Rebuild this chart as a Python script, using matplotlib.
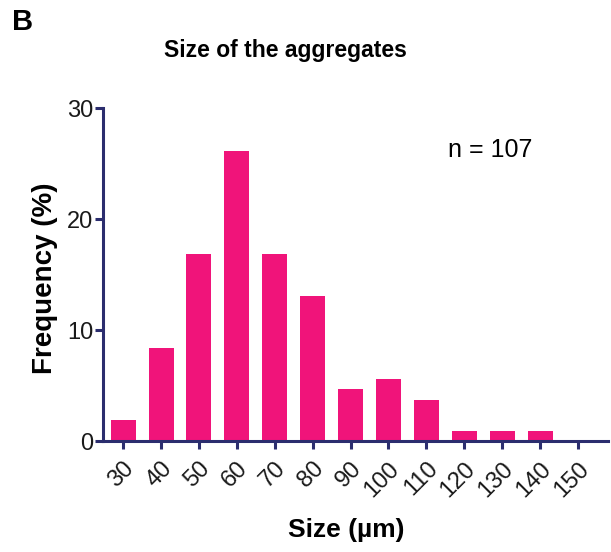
import matplotlib.pyplot as plt
import numpy as np

plt.rcParams['font.family'] = ['Liberation Sans', 'DejaVu Sans']

# size classes (um) and frequency (%), n = 107
sizes = ['30', '40', '50', '60', '70', '80', '90', '100', '110', '120', '130', '140', '150']
freq = [1.87, 8.41, 16.82, 26.17, 16.82, 13.08, 4.67, 5.61, 3.74, 0.93, 0.93, 0.93, 0.0]
yticks = [0, 10, 20, 30]

axis_col = '#2b2d6e'
bar_col = '#f0147a'

fig = plt.figure(figsize=(6.11, 5.52), dpi=100)
ax = fig.add_axes([0.1686, 0.201, 0.8264, 0.603])

x = np.arange(len(sizes))
ax.bar(x, freq, width=0.66, color=bar_col, zorder=2)

ax.set_xlim(-0.53, 12.79)
ax.set_ylim(0, 30)
ax.set_yticks(yticks)
ax.set_xticks(x)
ax.set_xticklabels(sizes, rotation=45, ha='right', va='top', rotation_mode='anchor')

for s in ['top', 'right']:
    ax.spines[s].set_visible(False)
for s in ['left', 'bottom']:
    ax.spines[s].set_color(axis_col)
    ax.spines[s].set_linewidth(2.2)
ax.tick_params(axis='both', colors=axis_col, width=2.2, length=6, labelsize=17, labelcolor='#1a1a1a')
ax.tick_params(axis='x', pad=6)
ax.tick_params(axis='y', pad=1)

ax.set_ylabel('Frequency (%)', fontsize=20, fontweight='bold')
ax.yaxis.set_label_coords(-0.114, 0.49)
ax.yaxis.label.set_va('center')
ax.set_xlabel('Size (µm)', fontsize=19, fontweight='bold')
ax.xaxis.set_label_coords(0.481, -0.267)
ax.xaxis.label.set_va('center')

fig.text(285 / 611, 1 - 50 / 552, 'Size of the aggregates', fontsize=16.5, fontweight='bold',
         ha='center', va='center')
fig.text(12 / 611, 1 - 22 / 552, 'B', fontsize=21, fontweight='bold', ha='left', va='center')
ax.text(448 / 611, 1 - 150 / 552, 'n = 107', transform=fig.transFigure, fontsize=18,
        ha='left', va='center')

plt.savefig('out.png', dpi=100)
